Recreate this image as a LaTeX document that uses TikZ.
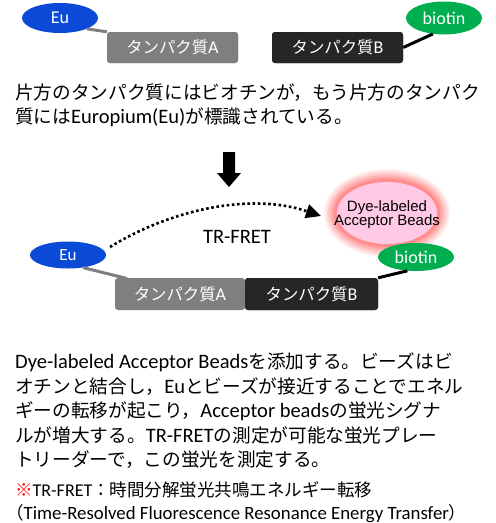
\documentclass[tikz,border=0pt]{standalone}
\usepackage{fontspec}
\setmainfont{Carlito}
\newfontfamily\jp[Scale=0.91]{Noto Sans CJK JP}
\newfontfamily\jpn{Noto Sans CJK JP}
\newfontfamily\arialf{Liberation Sans}
\usetikzlibrary{arrows.meta,shapes.geometric}
\definecolor{eublue}{HTML}{0B4AD6}
\definecolor{biogreen}{HTML}{00AD4F}
\definecolor{protA}{HTML}{7F7F7F}
\definecolor{protB}{HTML}{262626}
\definecolor{beadpink}{HTML}{FFC8E4}
\definecolor{glowred}{HTML}{FF5A5A}
\tikzset{
  x=1pt, y=-1pt,
  eunode/.style={ellipse, fill=eublue, text=white, inner sep=0pt},
  bionode/.style={ellipse, fill=biogreen, text=white, inner sep=0pt},
  protbox/.style={rounded corners=3pt, text=white, inner sep=0pt, font=\fontsize{18}{18}\selectfont},
  linkline/.style={line width=3pt},
  txt/.style={anchor=base west, inner sep=0pt},
  bodytxt/.style={txt, font=\fontsize{20.5}{20.5}\selectfont},
  notetxt/.style={txt, font=\fontsize{17.5}{17.5}\selectfont},
}
\begin{document}
\begin{tikzpicture}
\useasboundingbox (0,0) rectangle (496,523);
% ---------- top panel ----------
\node[protbox, fill=protA, minimum width=131pt, minimum height=31pt] (pa1) at (172.5,47.5) {{\jp タンパク質}A};
\node[protbox, fill=protB, minimum width=131pt, minimum height=31pt] (pb1) at (337.5,47.5) {{\jp タンパク質}B};
\node[eunode, minimum width=76pt, minimum height=30pt, font=\fontsize{18}{18}\selectfont] (eu1) at (60,18) {Eu};
\node[bionode, minimum width=76pt, minimum height=33pt, font=\fontsize{18}{18}\selectfont] (bio1) at (444,18) {biotin};
\draw[linkline, protA] (eu1.-22) -- (pa1.north west);
\draw[linkline, black] (bio1.-125) -- (pb1.east);
\node[protbox, fill=protA, minimum width=131pt, minimum height=31pt] at (pa1) {{\jp タンパク質}A};
\node[protbox, fill=protB, minimum width=131pt, minimum height=31pt] at (pb1) {{\jp タンパク質}B};

\node[bodytxt] (t1) at (15,99) {\jp 片方のタンパク質にはビオチンが，もう片方のタンパク};
\node[bodytxt] (t2) at (15,123) {{\jp 質には}Europium(Eu){\jp が標識されている。}};

% ---------- big down arrow ----------
\fill[black] (223,152) -- (235,152) -- (235,173) -- (241,173) -- (229,187) -- (217,173) -- (223,173) -- cycle;

% ---------- bottom panel ----------
\foreach \g/\o in {13/0.10,11/0.12,9/0.15,7/0.18,5/0.22,3/0.28}{
  \fill[glowred, opacity=\o] (387,213) ellipse ({50+\g} and {31+\g});
}
\node[ellipse, fill=beadpink, minimum width=100pt, minimum height=62pt, inner sep=0pt] (beads) at (387,213) {};
\node[font=\arialf\fontsize{15}{15}\selectfont, align=center, inner sep=0pt] (beadtxt) at (387,214.5) {Dye-labeled\\[-0.5pt]Acceptor Beads};

\node[protbox, fill=protA, minimum width=130pt, minimum height=32pt] (pa2) at (180,294) {{\jp タンパク質}A};
\node[protbox, fill=protB, minimum width=133pt, minimum height=32pt] (pb2) at (311.5,294) {{\jp タンパク質}B};
\node[eunode, minimum width=76pt, minimum height=27pt, font=\fontsize{17}{17}\selectfont] (eu2) at (68,255) {Eu};
\node[bionode, minimum width=76pt, minimum height=28pt, font=\fontsize{18}{18}\selectfont] (bio2) at (416,257) {biotin};
\draw[linkline, protA] (eu2.-40) -- (127,278.5);
\draw[linkline, black] (bio2.-122) -- (pb2.north east);
\node[protbox, fill=protB, minimum width=133pt, minimum height=32pt] at (pb2) {{\jp タンパク質}B};

\coordinate (fretS) at (110,247);
\coordinate (fretE) at (321,216);
\draw[line width=2.6pt, dash pattern=on 2.6pt off 2.6pt, -{Triangle[length=15pt,width=14pt]}]
  (fretS) .. controls (170,210) and (250,192) .. (fretE);
\node[font=\fontsize{20.5}{20.5}\selectfont, inner sep=0pt] (fretlbl) at (237,237) {TR-FRET};

% ---------- bottom text ----------
\node[bodytxt] (b1) at (15,368.5) {Dye-labeled Acceptor Beads{\jp を添加する。ビーズはビ}};
\node[bodytxt] (b2) at (15,393) {{\jp オチンと結合し，}Eu{\jp とビーズが接近することでエネル}};
\node[bodytxt] (b3) at (15,417.5) {{\jp ギーの転移が起こり，}Acceptor beads{\jp の蛍光シグナ}};
\node[bodytxt] (b4) at (15,442) {{\jp ルが増大する。}TR-FRET{\jp の測定が可能な蛍光プレー}};
\node[bodytxt] (b5) at (15,466.5) {\jp トリーダーで，この蛍光を測定する。};
\node[notetxt] (f1) at (15,496) {{\jpn\color{red}※}{\fontsize{18}{18}\selectfont TR-FRET}{\jpn ：時間分解蛍光共鳴エネルギー転移}};
\node[notetxt] (f2) at (6,519) {{\jpn （}{\fontsize{18.8}{18.8}\selectfont Time-Resolved Fluorescence Resonance Energy Transfer}{\jpn ）}};
\end{tikzpicture}
\end{document}
